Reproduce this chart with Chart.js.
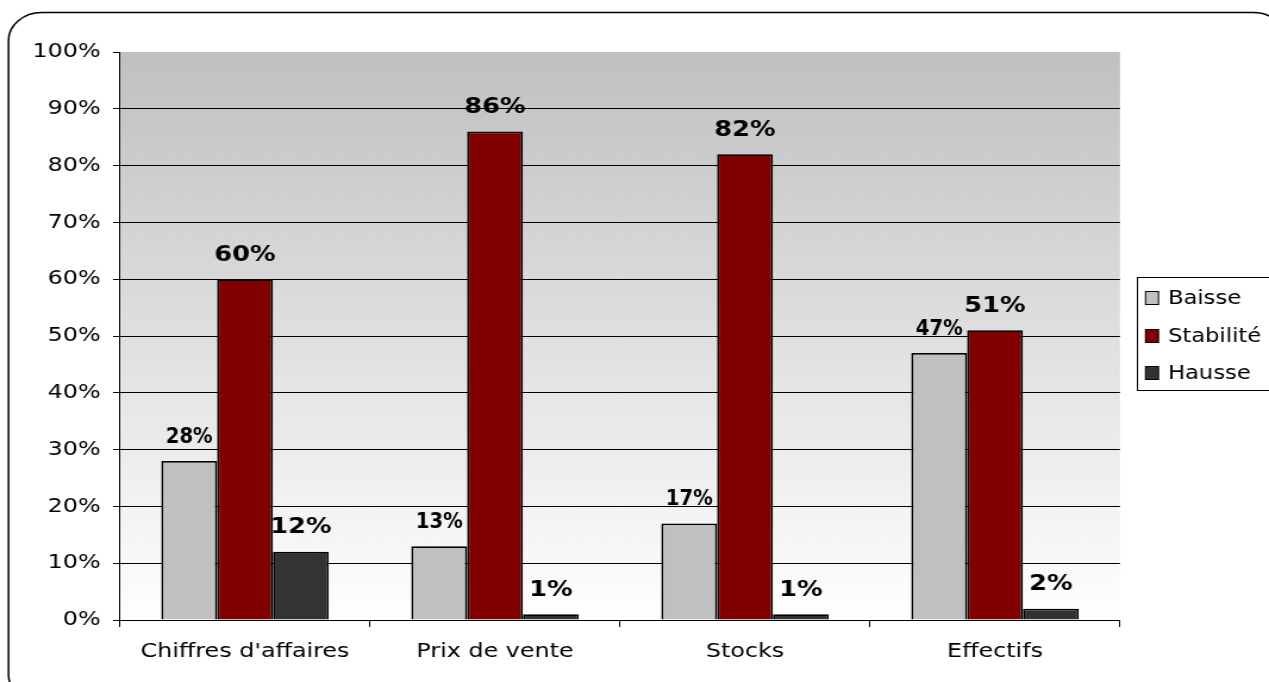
<!DOCTYPE html>
<html lang="fr">
<head>
<meta charset="UTF-8" />
<title>Baisse / Stabilité / Hausse</title>
<script src="https://cdn.jsdelivr.net/npm/chart.js"></script>
<style>
  html, body { margin: 0; padding: 0; background: #fff; overflow: hidden; }
  #graphique { display: block; }
</style>
</head>
<body>
<!-- le graphique original est étiré horizontalement : on dessine plus étroit puis on étire en CSS -->
<canvas id="graphique" width="1066" height="682" style="width:1269px;height:682px"></canvas>
<script>
  // Données
  const categories = ["Chiffres d'affaires", "Prix de vente", "Stocks", "Effectifs"];
  const baisse = [28, 13, 17, 47];
  const stabilite = [60, 86, 82, 51];
  const hausse = [12, 1, 1, 2];
  const seriesNames = ["Baisse", "Stabilité", "Hausse"];
  const seriesColors = ["#c0c0c0", "#800000", "#333333"];

  const police = "'DejaVu Sans', Verdana, sans-serif";
  const S = 1269 / 1066;            // facteur d'étirement horizontal
  const px = v => v / S;            // position écran -> position canvas

  // Cadre arrondi + fond dégradé de la zone de tracé
  const fondPlugin = {
    id: "fond",
    beforeDraw(chart) {
      const ctx = chart.ctx;
      const a = chart.chartArea;
      ctx.save();
      ctx.fillStyle = "#fff";
      ctx.fillRect(0, 0, chart.width, chart.height);
      const g = ctx.createLinearGradient(0, a.top, 0, a.bottom);
      g.addColorStop(0, "#c0c0c0");
      g.addColorStop(1, "#ffffff");
      ctx.fillStyle = g;
      ctx.fillRect(a.left, a.top, a.right - a.left, a.bottom - a.top);
      ctx.restore();
    },
    afterDraw(chart) {
      const ctx = chart.ctx;
      ctx.save();
      ctx.strokeStyle = "#000";
      ctx.lineWidth = 1.5;
      ctx.beginPath();
      ctx.roundRect(px(8.5), 12.5, px(1278), 690, 28);
      ctx.stroke();

      // légende encadrée
      ctx.lineWidth = 1;
      ctx.strokeRect(px(1137.5), 277.5, px(140), 113);
      ctx.font = "19px " + police;
      ctx.textBaseline = "middle";
      const ys = [298, 336, 373];
      chart.data.datasets.forEach((ds, i) => {
        ctx.fillStyle = ds.backgroundColor;
        ctx.fillRect(px(1145.5), ys[i] - 6.5, px(13), 13);
        ctx.strokeStyle = "#000";
        ctx.strokeRect(px(1145.5), ys[i] - 6.5, px(13), 13);
        ctx.fillStyle = "#000";
        ctx.fillText(ds.label, px(1168), ys[i] + 1);
      });
      ctx.restore();
    }
  };

  // Étiquettes de valeurs au-dessus des barres
  const etiquettesPlugin = {
    id: "etiquettes",
    afterDatasetsDraw(chart) {
      const ctx = chart.ctx;
      ctx.save();
      ctx.fillStyle = "#000";
      ctx.textAlign = "center";
      ctx.textBaseline = "middle";
      chart.data.datasets.forEach((ds, i) => {
        const meta = chart.getDatasetMeta(i);
        // les étiquettes "Baisse" sont plus étroites dans l'original
        const serre = i === 0 ? 0.75 : 1;
        ctx.font = "bold " + (i === 0 ? 22 : 21.5) + "px " + police;
        meta.data.forEach((bar, j) => {
          ctx.save();
          ctx.translate(bar.x, bar.y - 24);
          ctx.scale(serre, 1);
          ctx.fillText(ds.data[j] + "%", 0, 0);
          ctx.restore();
        });
      });
      ctx.restore();
    }
  };

  const datasets = [baisse, stabilite, hausse].map((d, i) => ({
    label: seriesNames[i],
    data: d,
    backgroundColor: seriesColors[i],
    borderColor: "#000",
    borderWidth: 1.8,
    categoryPercentage: 0.67,
    barPercentage: 1
  }));

  new Chart(document.getElementById("graphique"), {
    type: "bar",
    data: { labels: categories, datasets: datasets },
    options: {
      responsive: false,
      animation: false,
      devicePixelRatio: 1,
      layout: { padding: { top: 52, right: 1066 - px(1120), left: 0, bottom: 0 } },
      plugins: {
        legend: { display: false },
        tooltip: { enabled: false }
      },
      scales: {
        x: {
          afterFit(scale) { scale.height = 62; },
          grid: {
            drawOnChartArea: false,
            tickLength: 7,
            tickColor: "#000"
          },
          border: { color: "#000", width: 1 },
          ticks: { color: "#000", padding: 13, font: { family: police, size: 20 } }
        },
        y: {
          min: 0,
          max: 100,
          afterFit(scale) { scale.width = px(120); },
          grid: {
            color: ctx => ctx.tick && ctx.tick.value === 100 ? "rgba(0,0,0,0)" : "#000",
            tickColor: "#000",
            tickLength: px(7),
            lineWidth: 1
          },
          border: { color: "#000", width: 1 },
          ticks: {
            stepSize: 10,
            color: "#000",
            padding: 10.5,
            font: { family: police, size: 20 },
            callback: v => v + "%"
          }
        }
      }
    },
    plugins: [fondPlugin, etiquettesPlugin]
  });
</script>
</body>
</html>
